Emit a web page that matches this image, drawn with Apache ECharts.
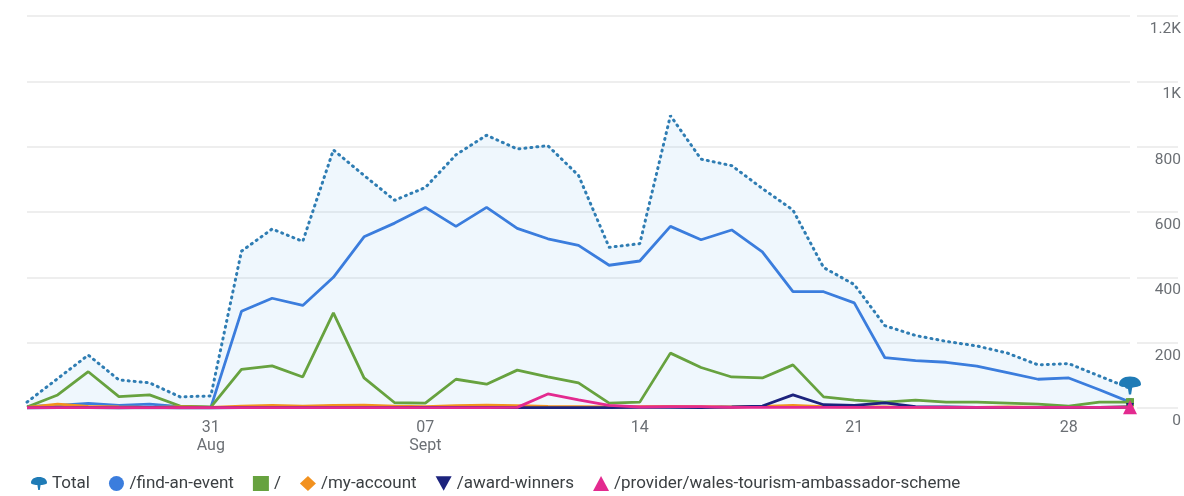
<!DOCTYPE html>
<html>
<head>
<meta charset="utf-8">
<script src="https://cdn.jsdelivr.net/npm/echarts@6/dist/echarts.min.js"></script>
<style>
  html, body { margin: 0; padding: 0; background: #fff; }
  #main { width: 1184px; height: 496px; }
</style>
</head>
<body>
<div id="main"></div>
<script>
// days on the x axis (25 Aug .. 30 Sept)
var days = ['25 Aug','26 Aug','27 Aug','28 Aug','29 Aug','30 Aug','31 Aug',
  '01 Sept','02 Sept','03 Sept','04 Sept','05 Sept','06 Sept','07 Sept','08 Sept','09 Sept','10 Sept',
  '11 Sept','12 Sept','13 Sept','14 Sept','15 Sept','16 Sept','17 Sept','18 Sept','19 Sept','20 Sept',
  '21 Sept','22 Sept','23 Sept','24 Sept','25 Sept','26 Sept','27 Sept','28 Sept','29 Sept','30 Sept'];
// which days get a label, and what it says
var tickLabels = { '31 Aug': '31\nAug', '07 Sept': '07\nSept', '14 Sept': '14', '21 Sept': '21', '28 Sept': '28' };
var yTicks = { 0: '0', 200: '200', 400: '400', 600: '600', 800: '800', 1000: '1K', 1200: '1.2K' };

var total = [18, 90, 162, 86, 77, 34, 37, 480, 548, 510, 790, 712, 636, 675, 775, 835, 793, 803, 712, 492, 503, 895, 762, 742, 672, 606, 430, 378, 252, 222, 204, 190, 168, 132, 136, 98, 60];
var findEvent = [5, 8, 14, 8, 12, 4, 2, 296, 336, 314, 400, 524, 566, 614, 556, 614, 550, 518, 498, 437, 450, 556, 515, 545, 478, 356, 356, 322, 154, 145, 140, 128, 108, 88, 92, 56, 18];
var home = [3, 40, 111, 35, 40, 6, 3, 118, 129, 95, 291, 92, 16, 15, 88, 73, 116, 95, 77, 15, 18, 168, 124, 95, 92, 132, 34, 24, 18, 24, 18, 18, 15, 12, 6, 18, 18];
var myAccount = [2, 12, 5, 3, 2, 3, 2, 6, 8, 6, 8, 9, 6, 4, 7, 9, 7, 5, 4, 3, 4, 5, 4, 3, 5, 8, 4, 3, 3, 2, 2, 2, 3, 2, 2, 2, 3];
var awardWinners = [0, 1, 1, 0, 1, 0, 0, 1, 1, 1, 1, 1, 1, 2, 2, 2, 1, 1, 1, 1, 2, 2, 1, 3, 6, 40, 10, 8, 16, 4, 3, 2, 2, 2, 2, 2, 3];
var ambassador = [1, 1, 1, 1, 1, 1, 1, 1, 1, 1, 1, 1, 1, 1, 1, 1, 2, 43, 25, 8, 3, 4, 4, 2, 2, 2, 2, 2, 2, 2, 2, 2, 2, 2, 2, 2, 2];

var pin = 'path://M10,0 C16,0 20,3 20,7 C20,9 17,9 12,10 L11,16 L9,16 L8,10 C3,9 0,9 0,7 C0,3 4,0 10,0 Z';
var last = days.length - 1;

function lastOnly(size) {
  return function (val, params) { return params.dataIndex === last ? size : 0; };
}

function line(name, data, color, symbol, size, z) {
  return {
    name: name, type: 'line', data: data, z: z,
    symbol: symbol, symbolSize: lastOnly(size), showSymbol: true, showAllSymbol: true,
    itemStyle: { color: color },
    lineStyle: { color: color, width: 2.8 },
    emphasis: { disabled: true }
  };
}

var chart = echarts.init(document.getElementById('main'));
var series = [
  {
    name: 'Total', type: 'line', data: total, z: 2,
    symbol: pin, symbolSize: lastOnly([22, 18]), symbolOffset: [0, -3], showSymbol: true, showAllSymbol: true,
    itemStyle: { color: '#1f7bb6' },
    lineStyle: { color: '#2f7db3', width: 3, type: [1, 5], cap: 'round' },
    areaStyle: { color: 'rgba(66,160,230,0.12)' },
    emphasis: { disabled: true }
  },
  line('/find-an-event', findEvent, '#3b7ddd', 'circle', 8, 3),
  line('/', home, '#67a23f', 'rect', 8, 4),
  line('/my-account', myAccount, '#f2911e', 'diamond', 8, 5),
  line('/award-winners', awardWinners, '#1c237d', 'triangle', 8, 6),
  line('/provider/wales-tourism-ambassador-scheme', ambassador, '#e32a8f', 'triangle', 14, 7)
];
series[4].symbolRotate = 180;

var option = {
  animation: false,
  textStyle: { fontFamily: 'Roboto' },
  grid: [
    { left: 27, right: 54, top: 16, bottom: 88 },
    { left: 1137, right: 6, top: 16, bottom: 88 }
  ],
  xAxis: [
    {
      type: 'category', data: days, boundaryGap: false, gridIndex: 0,
      axisLine: { show: false }, axisTick: { show: false },
      splitLine: { show: false },
      axisLabel: {
        interval: function (i, v) { return tickLabels[v] !== undefined; },
        formatter: function (v) { return tickLabels[v] || ''; },
        color: '#6b6f74', fontSize: 16, lineHeight: 18, margin: 11
      }
    },
    { type: 'value', gridIndex: 1, show: false, min: 0, max: 1 }
  ],
  yAxis: [
    {
      type: 'value', position: 'right', gridIndex: 0,
      min: 0, max: 1200, interval: 200,
      axisLine: { show: false }, axisTick: { show: false },
      splitLine: { lineStyle: { color: '#e9e9e9', width: 1.5 } },
      axisLabel: {
        formatter: function (v) { return yTicks[v]; },
        color: '#6b6f74', fontSize: 15.5, align: 'right', margin: 51,
        verticalAlign: 'top', lineHeight: 16, padding: [5, 0, 0, 0]
      }
    },
    {
      type: 'value', gridIndex: 1, min: 0, max: 1200, interval: 200,
      axisLine: { show: false }, axisTick: { show: false }, axisLabel: { show: false },
      splitLine: { lineStyle: { color: '#e9e9e9', width: 1.5 } }
    }
  ],
  legend: {
    left: 26, top: 470, itemWidth: 16, itemHeight: 15, itemGap: 19,
    textStyle: { color: '#3c4043', fontSize: 17, fontFamily: 'Roboto' },
    selectedMode: false,
    data: [
      { name: 'Total', icon: pin },
      { name: '/find-an-event', icon: 'circle' },
      { name: '/', icon: 'rect' },
      { name: '/my-account', icon: 'diamond' },
      { name: '/award-winners', icon: 'path://M0,0 L20,0 L10,18 Z' },
      { name: '/provider/wales-tourism-ambassador-scheme', icon: 'triangle' }
    ]
  },
  series: series
};
chart.setOption(option);
</script>
</body>
</html>
